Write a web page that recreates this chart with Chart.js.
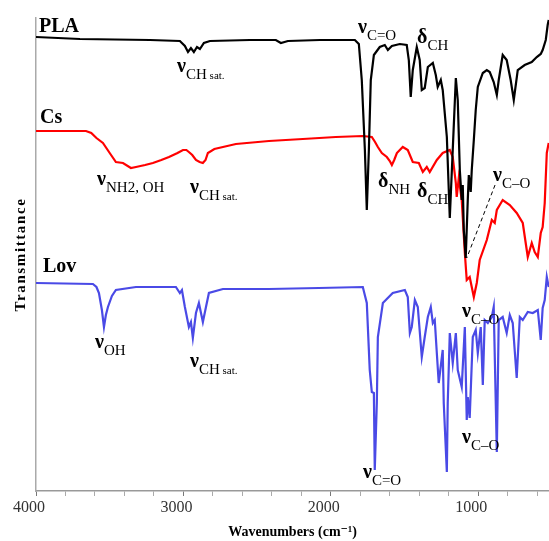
<!DOCTYPE html>
<html>
<head>
<meta charset="utf-8">
<script src="https://cdn.jsdelivr.net/npm/chart.js"></script>
<style>html,body{margin:0;padding:0;background:#fff}</style>
</head>
<body>
<canvas id="ftirChart" width="549" height="541"></canvas>
<script>
// Wavenumber tick labels (cm-1)
const xTicks = [4000, 3000, 2000, 1000];

// PLA spectrum (wavenumber, transmittance in arbitrary offset units)
const plaWn = [4000,3702,3227,3024,2990,2969,2949,2929,2908,2888,2861,2820,2549,2373,2339,2291,2075,1837,1810,1790,1769,1756,1742,1729,1708,1668,1634,1613,1586,1532,1485,1471,1458,1444,1417,1397,1383,1363,1342,1308,1288,1275,1254,1241,1213,1193,1173,1152,1139,1125,1112,1105,1098,1085,1071,1064,1051,1044,1030,1017,1003,969,942,922,895,874,861,834,807,780,759,732,685,637,603,576,563,542,529,522];
const plaT  = [454,452,451,450,445,439,443,439,444,442,448,450,451,451,448,450,451,451,447,411,341,281,341,411,436,444,446,441,445,447,446,431,394,421,444,431,401,403,424,428,416,404,411,401,354,273,341,413,391,321,291,306,261,233,291,316,299,321,351,381,404,418,421,419,409,396,411,436,431,411,391,421,426,429,434,437,441,451,466,471];

// Chitosan (Cs) spectrum
const csWn = [4000,3661,3625,3590,3546,3500,3458,3410,3356,3322,3260,3207,3150,3098,3040,3003,2980,2963,2940,2915,2890,2868,2850,2834,2790,2732,2644,2420,2190,1966,1783,1722,1700,1681,1654,1620,1600,1586,1570,1552,1512,1478,1444,1403,1376,1349,1329,1281,1241,1193,1173,1152,1146,1132,1112,1091,1078,1058,1030,1010,990,942,908,888,874,834,786,739,698,671,664,637,617,596,576,563,549,535,522];
const csT  = [360,360,358,353,348,338,329,328,323,324,326,328,331,334,338,341,341,339,336,331,329,328,331,338,342,344,347,350,352,354,355,354,349,344,338,334,330,326,331,338,344,341,329,328,319,324,319,331,338,341,334,308,294,313,291,238,211,214,194,208,231,251,271,268,281,291,286,278,268,241,234,248,239,234,258,264,288,338,348];

// Lovastatin (Lov) spectrum
const lovWn = [4000,3614,3590,3573,3553,3539,3526,3512,3485,3458,3322,3051,3024,3010,2990,2963,2949,2936,2915,2895,2868,2847,2827,2732,2420,2081,1783,1756,1736,1722,1708,1702,1688,1681,1647,1580,1498,1478,1464,1451,1430,1410,1383,1363,1342,1322,1308,1295,1281,1268,1241,1234,1213,1207,1193,1173,1152,1139,1112,1091,1078,1071,1058,1037,1017,1003,983,969,956,935,908,895,874,861,834,807,786,766,739,718,698,664,630,596,576,563,549,535,522];
const lovT  = [208,207,204,198,181,164,176,184,195,201,204,204,198,201,184,164,169,153,178,188,169,184,198,202,202,203,204,188,121,99,98,21,88,154,188,198,201,194,158,164,191,184,134,154,174,184,168,171,138,108,141,88,19,88,158,128,158,121,104,164,71,94,73,154,161,138,164,106,171,168,174,184,39,171,174,158,176,168,113,174,171,179,178,181,151,183,191,214,204];

const serif = '"Liberation Serif", "DejaVu Serif", serif';

// Sample names and band assignments, placed in data coordinates
const sampleNames = [
  { text: 'PLA', wn: 3980, t: 459 },
  { text: 'Cs',  wn: 3973, t: 368 },
  { text: 'Lov', wn: 3953, t: 219 }
];
const bands = [
  { sym: 'ν', sub: 'CH', note: ' sat.', wn: 3043, t: 419 },
  { sym: 'ν', sub: 'C=O', wn: 1816, t: 458 },
  { sym: 'δ', sub: 'CH', wn: 1415, t: 448 },
  { sym: 'ν', sub: 'NH2, OH', wn: 3586, t: 306 },
  { sym: 'ν', sub: 'CH', note: ' sat.', wn: 2955, t: 298 },
  { sym: 'δ', sub: 'NH', wn: 1680, t: 304 },
  { sym: 'δ', sub: 'CH', wn: 1415, t: 294 },
  { sym: 'ν', sub: 'C–O', wn: 900, t: 310 },
  { sym: 'ν', sub: 'OH', wn: 3600, t: 143 },
  { sym: 'ν', sub: 'CH', note: ' sat.', wn: 2955, t: 124 },
  { sym: 'ν', sub: 'C–O', wn: 1110, t: 174 },
  { sym: 'ν', sub: 'C–O', wn: 1110, t: 48 },
  { sym: 'ν', sub: 'C=O', wn: 1782, t: 13 }
];
// dashed leader from the Cs C–O label to the band
const leader = { from: [886, 306], to: [1078, 233] };

function toPoints(wn, t) {
  return wn.map((w, i) => ({ x: w, y: t[i] }));
}

const labelPlugin = {
  id: 'ftirLabels',
  afterDatasetsDraw(chart) {
    const ctx = chart.ctx;
    const xs = chart.scales.x, ys = chart.scales.y;
    ctx.save();
    ctx.fillStyle = '#000';
    ctx.textBaseline = 'alphabetic';
    ctx.textAlign = 'left';

    sampleNames.forEach(n => {
      ctx.font = 'bold 20px ' + serif;
      ctx.fillText(n.text, xs.getPixelForValue(n.wn), ys.getPixelForValue(n.t));
    });

    bands.forEach(b => {
      let x = xs.getPixelForValue(b.wn);
      const y = ys.getPixelForValue(b.t);
      ctx.font = 'bold 20px ' + serif;
      ctx.fillText(b.sym, x, y);
      x += ctx.measureText(b.sym).width;
      ctx.font = '15px ' + serif;
      ctx.fillText(b.sub, x, y + 7);
      if (b.note) {
        x += ctx.measureText(b.sub).width;
        ctx.font = '11px ' + serif;
        ctx.fillText(b.note, x, y + 7);
      }
    });

    ctx.strokeStyle = '#000';
    ctx.lineWidth = 1;
    ctx.setLineDash([4, 3]);
    ctx.beginPath();
    ctx.moveTo(xs.getPixelForValue(leader.from[0]), ys.getPixelForValue(leader.from[1]));
    ctx.lineTo(xs.getPixelForValue(leader.to[0]), ys.getPixelForValue(leader.to[1]));
    ctx.stroke();
    ctx.setLineDash([]);

    // y axis title, letter spaced
    ctx.translate(21, (chart.chartArea.top + chart.chartArea.bottom) / 2);
    ctx.rotate(-Math.PI / 2);
    ctx.font = 'bold 15px ' + serif;
    ctx.letterSpacing = '1.6px';
    ctx.textAlign = 'center';
    ctx.textBaseline = 'middle';
    ctx.fillText('Transmittance', 0, 0);
    ctx.restore();
  }
};

new Chart(document.getElementById('ftirChart'), {
  type: 'line',
  data: {
    datasets: [{
      label: 'PLA',
      data: toPoints(plaWn, plaT),
      borderColor: '#000000',
      borderWidth: 2.2,
      pointRadius: 0,
      tension: 0
    }, {
      label: 'Cs',
      data: toPoints(csWn, csT),
      borderColor: '#ff0000',
      borderWidth: 2.2,
      pointRadius: 0,
      tension: 0
    }, {
      label: 'Lov',
      data: toPoints(lovWn, lovT),
      borderColor: '#4a4ae6',
      borderWidth: 2.2,
      pointRadius: 0,
      tension: 0
    }]
  },
  options: {
    responsive: false,
    animation: false,
    layout: { padding: { top: 18, right: 0, left: 0, bottom: 0 } },
    plugins: {
      legend: { display: false },
      tooltip: { enabled: false }
    },
    scales: {
      x: {
        type: 'linear',
        reverse: true,
        min: 520,
        max: 4000,
        afterBuildTicks: scale => {
          const t = [];
          for (let v = 4000; v >= 600; v -= 200) t.push({ value: v });
          scale.ticks = t;
        },
        afterFit: scale => { scale.height = 50; },
        ticks: {
          autoSkip: false,
          maxRotation: 0,
          padding: 2,
          labelOffset: -7,
          color: '#333',
          font: { family: serif, size: 16 },
          callback: v => xTicks.includes(v) ? String(v) : ''
        },
        grid: {
          drawOnChartArea: false,
          tickLength: 5,
          color: ctx => xTicks.includes(ctx.tick && ctx.tick.value) ? '#777' : '#aaa'
        },
        border: { color: '#999', width: 1.5 },
        title: {
          display: true,
          text: 'Wavenumbers (cm⁻¹)',
          color: '#000',
          padding: { top: 0, bottom: 0 },
          font: { family: serif, size: 14, weight: 'bold' }
        }
      },
      y: {
        min: 0,
        max: 473,
        afterFit: scale => { scale.width = 36; },
        ticks: { display: false },
        grid: { display: false },
        border: { color: '#aaa', width: 1.5 }
      }
    }
  },
  plugins: [labelPlugin]
});
</script>
</body>
</html>
